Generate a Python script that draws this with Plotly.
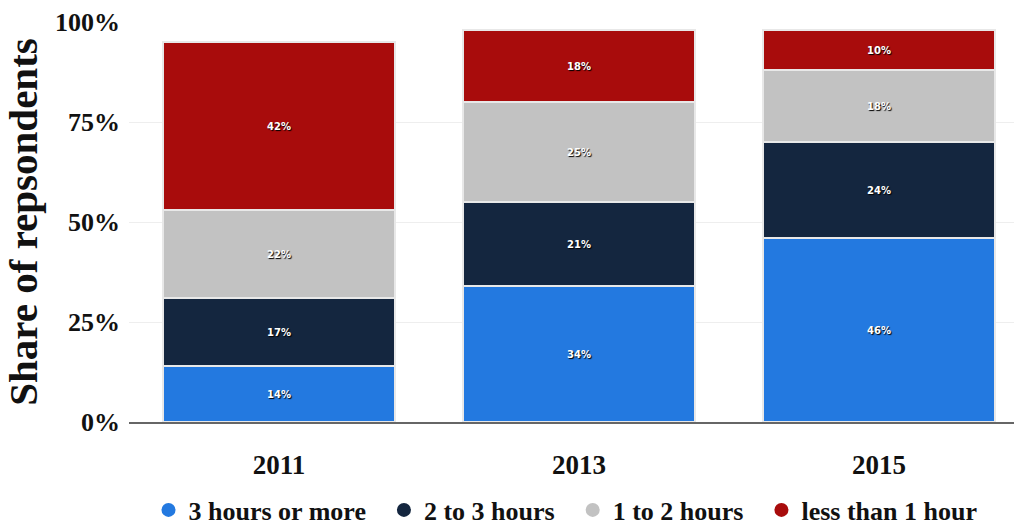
import plotly.graph_objects as go

years = ["2011", "2013", "2015"]
series_names = ["3 hours or more", "2 to 3 hours", "1 to 2 hours", "less than 1 hour"]
three_plus = [14, 34, 46]
two_to_three = [17, 21, 24]
one_to_two = [22, 25, 18]
less_than_one = [42, 18, 10]
colors = ["#2379e0", "#14263f", "#c2c2c2", "#a80c0c"]
y_ticks = [0, 25, 50, 75, 100]
y_tick_labels = ["0%", "25%", "50%", "75%", "100%"]

values = [three_plus, two_to_three, one_to_two, less_than_one]
serif = "Liberation Serif"

fig = go.Figure()
for name, vals, col in zip(series_names, values, colors):
    fig.add_trace(go.Bar(
        x=years, y=vals, name=name, showlegend=False,
        marker=dict(color=col, line=dict(color="#e8e8e8", width=1.5)),
        text=[f"{v}%" for v in vals], textposition="inside", insidetextanchor="middle",
        textfont=dict(family="DejaVu Sans", size=10, color="white", weight="bold",
                      shadow="1px 1px 1px #000000"),
        constraintext="none", hoverinfo="x+y+name",
    ))
# legend entries with circle markers
for name, col in zip(series_names, colors):
    fig.add_trace(go.Scatter(
        x=[None], y=[None], mode="markers", name=name + "  ",
        marker=dict(color=col, size=14, symbol="circle"),
    ))

fig.update_layout(
    barmode="stack",
    bargap=0.227,
    width=1026, height=528,
    margin=dict(l=129, r=12, t=22, b=106, autoexpand=False),
    paper_bgcolor="white", plot_bgcolor="white",
    font=dict(family=serif, color="#111111"),
    showlegend=True,
    legend=dict(orientation="h", x=0.5, xanchor="center", y=-0.22, yanchor="middle",
                font=dict(family=serif, size=26, color="#111111", weight="bold"),
                traceorder="normal", itemwidth=30, tracegroupgap=0),
    xaxis=dict(range=[-0.5, 2.45], showgrid=False, showline=True, linecolor="#666666", linewidth=2,
               tickfont=dict(family=serif, size=27, weight="bold", color="#111111"),
               ticks="", ticklabelstandoff=18),
    yaxis=dict(range=[0, 100], tickvals=y_ticks, ticktext=y_tick_labels,
               showgrid=True, gridcolor="#eeeeee", zeroline=False, showline=False,
               tickfont=dict(family=serif, size=26, weight="bold", color="#111111"),
               ticklabelstandoff=8,
               title=dict(text="Share of repsondents", standoff=4,
                          font=dict(family=serif, size=41, weight="bold", color="#111111"))),
)

fig.write_html("out.html")
